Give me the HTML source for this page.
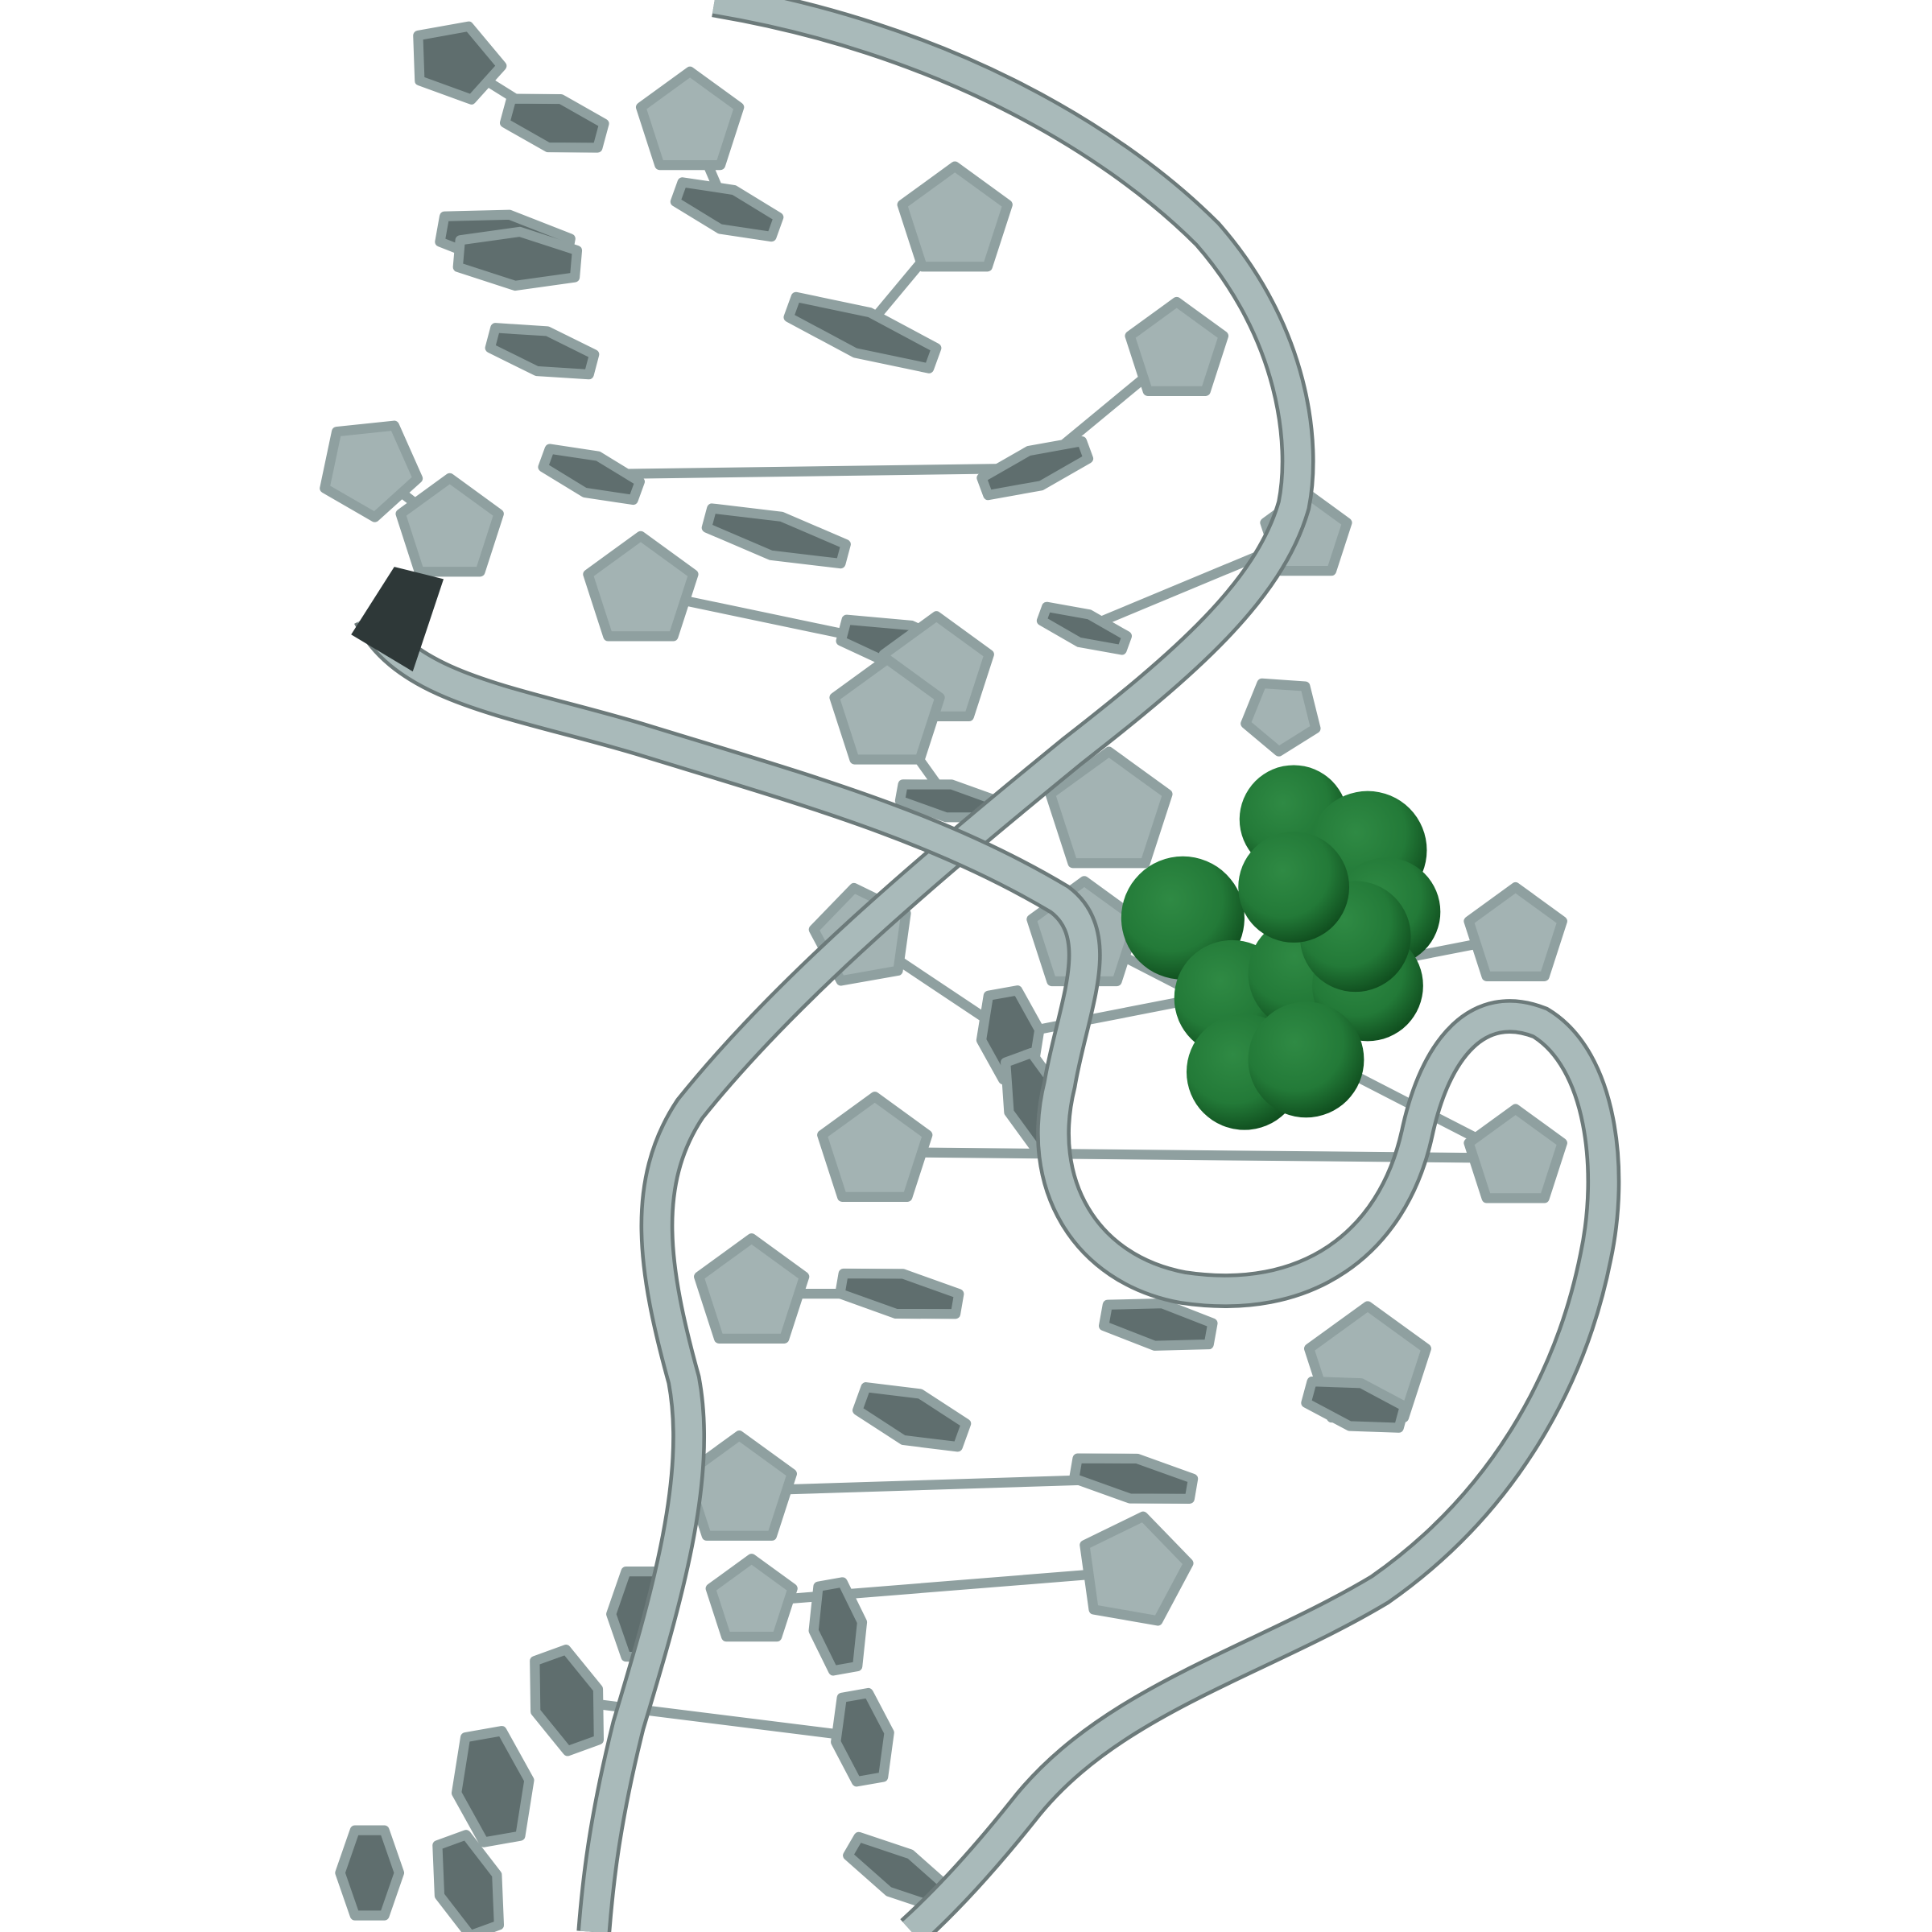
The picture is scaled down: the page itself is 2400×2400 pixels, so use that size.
<!DOCTYPE html>
<html><head><meta charset="utf-8"><style>
html,body{margin:0;padding:0;background:#fff;width:2400px;height:2400px;overflow:hidden}
svg{display:block}
</style></head><body>
<svg id="mol" width="2400" height="2400" viewBox="0 0 1568 1568" xmlns="http://www.w3.org/2000/svg">
<defs>
<radialGradient id="gs" cx="40%" cy="35%" r="70%"><stop offset="0" stop-color="#2f8a44"/><stop offset="0.6" stop-color="#237a38"/><stop offset="1" stop-color="#0e4a1c"/></radialGradient>
</defs>
<g id="sticks"></g>
<g id="bases"></g>
<g id="ribbons">
<path d="M580,0 C760,30 900,110 980,190 C1050,270 1060,360 1050,410 C1030,480 960,540 870,610 C760,700 640,800 560,900 C520,960 530,1030 555,1120 C570,1200 540,1300 510,1400 C490,1480 485,1530 482,1568" fill="none" stroke="#6c7a7a" stroke-width="28"/>
<path d="M580,0 C760,30 900,110 980,190 C1050,270 1060,360 1050,410 C1030,480 960,540 870,610 C760,700 640,800 560,900 C520,960 530,1030 555,1120 C570,1200 540,1300 510,1400 C490,1480 485,1530 482,1568" fill="none" stroke="#a9baba" stroke-width="22"/>
<path d="M300,500 C330,560 420,570 520,600 C650,640 760,670 860,730 C900,760 870,820 860,880 C840,960 880,1030 960,1045 C1060,1060 1130,1010 1150,920 C1165,850 1200,810 1250,830 C1300,860 1310,950 1295,1020 C1275,1120 1220,1220 1120,1290 C1020,1350 900,1380 830,1470 C790,1520 760,1550 740,1568" fill="none" stroke="#6c7a7a" stroke-width="28"/>
<path d="M300,500 C330,560 420,570 520,600 C650,640 760,670 860,730 C900,760 870,820 860,880 C840,960 880,1030 960,1045 C1060,1060 1130,1010 1150,920 C1165,850 1200,810 1250,830 C1300,860 1310,950 1295,1020 C1275,1120 1220,1220 1120,1290 C1020,1350 900,1380 830,1470 C790,1520 760,1550 740,1568" fill="none" stroke="#a9baba" stroke-width="22"/>
<path d="M320,460 L360,470 L335,545 L285,515 Z" fill="#2e3838"/>
</g>
<g id="green"></g>
</svg>
<script>
// bases: [cx, cy, radius, sides, rotationDeg, squash]
const baseCx=[370,450,560,590,775,410,420,440,700,955,300,365,480,840,630,520,735,760,880,1060,1040,720,770,900,700,1230,820,840,880,1230,710,610,730,940,1110,1100,740,600,920,920,610,680,700,520,460,400,300,380,730,1450];
const baseCy=[50,100,100,170,180,195,210,285,270,285,380,430,385,380,435,480,525,545,510,435,580,580,650,660,760,760,840,895,760,940,935,1050,1050,1075,1110,1140,1150,1210,1200,1275,1300,1320,1410,1310,1380,1450,1520,1530,1520,1600];
const baseR=[38,45,42,48,45,60,55,48,70,40,40,42,45,50,65,45,60,45,40,35,30,45,45,50,40,40,40,45,45,40,45,45,55,50,50,45,50,45,55,45,35,40,40,40,45,50,40,45,50,10];
const baseN=[5,6,5,6,5,6,6,6,6,5,5,5,6,6,6,5,6,5,6,5,5,5,6,5,5,5,6,6,5,5,5,5,6,6,5,6,6,5,6,5,5,6,6,6,6,6,6,6,6,5];
const baseRot=[20,15,0,20,0,10,5,15,20,0,30,0,20,-20,15,0,15,0,20,0,40,0,10,0,-10,0,80,70,0,0,0,0,10,10,0,15,20,0,10,10,0,80,80,90,70,80,90,70,30,0];
const baseSq=[0.8,0.45,1,0.35,1,0.35,0.4,0.35,0.25,1,1,1,0.35,0.3,0.25,1,0.3,1,0.3,1,1,1,0.3,1,1,1,0.6,0.5,1,1,1,1,0.3,0.35,1,0.4,0.4,1,0.3,1,1,0.5,0.55,0.6,0.6,0.6,0.6,0.55,0.35,1];
const stickFrom=[0,2,4,9,10,13,15,18,21,24,25,28,29,31,34,37,39,42];
const stickTo=[1,3,8,13,11,12,16,19,22,26,26,29,30,32,35,38,40,44];
const sphX=[1050,1110,1125,960,1000,1060,1110,1010,1060,1100,1050];
const sphY=[665,690,740,745,810,790,800,870,860,760,720];
const sphR=[44,48,44,50,47,47,45,47,47,45,45];

const NS='http://www.w3.org/2000/svg';
const sg=document.getElementById('sticks'), bg=document.getElementById('bases'), gg=document.getElementById('green');
for(let k=0;k<stickFrom.length;k++){
  const a=stickFrom[k], b=stickTo[k];
  const l=document.createElementNS(NS,'line');
  l.setAttribute('x1',baseCx[a]);l.setAttribute('y1',baseCy[a]);
  l.setAttribute('x2',baseCx[b]);l.setAttribute('y2',baseCy[b]);
  l.setAttribute('stroke','#8fa0a0');l.setAttribute('stroke-width','8');l.setAttribute('stroke-linecap','round');
  
  
  sg.appendChild(l);
}
for(let i=0;i<baseCx.length;i++){
  const n=baseN[i], r=baseR[i], rot=baseRot[i]*Math.PI/180, sq=baseSq[i];
  let pts=[];
  for(let k=0;k<n;k++){
    const t=k*2*Math.PI/n - Math.PI/2;
    let x=r*Math.cos(t), y=r*Math.sin(t)*sq;
    const X=x*Math.cos(rot)-y*Math.sin(rot), Y=x*Math.sin(rot)+y*Math.cos(rot);
    pts.push((baseCx[i]+X).toFixed(1)+','+(baseCy[i]+Y).toFixed(1));
  }
  const p=document.createElementNS(NS,'polygon');
  p.setAttribute('points',pts.join(' '));
  p.setAttribute('fill', n===5 && sq>0.9 ? '#a3b3b3' : '#5f6e6e');
  p.setAttribute('stroke','#8fa0a0');p.setAttribute('stroke-width','8');p.setAttribute('stroke-linejoin','round');
  
  
  bg.appendChild(p);
}
for(let i=0;i<sphX.length;i++){
  const c=document.createElementNS(NS,'circle');
  c.setAttribute('cx',sphX[i]);c.setAttribute('cy',sphY[i]);c.setAttribute('r',sphR[i]);
  c.setAttribute('fill','url(#gs)');
  
  
  gg.appendChild(c);
}
</script>
</body></html>
